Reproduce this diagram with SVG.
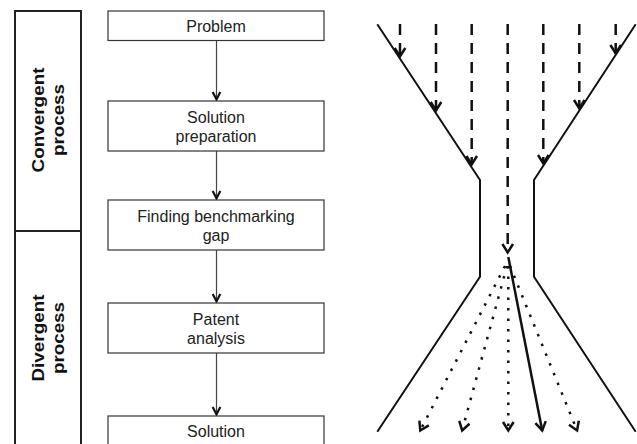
<svg xmlns="http://www.w3.org/2000/svg" width="637" height="444" viewBox="0 0 637 444">
<style>
.box{fill:#fff;stroke:#333;stroke-width:1.2}
.t{font-family:"Liberation Sans",Arial,sans-serif;font-size:16px;fill:#222;text-anchor:middle}
.lbl{font-family:"Liberation Sans",Arial,sans-serif;font-size:16px;font-weight:bold;fill:#111;text-anchor:middle}
.flow{stroke:#444;stroke-width:1.2;fill:none}
.funnel{stroke:#111;stroke-width:2;fill:none}
.dash{stroke:#111;stroke-width:2.5;fill:none;stroke-dasharray:11 8}
.dot{stroke:#111;stroke-width:2.5;fill:none;stroke-dasharray:2.5 8}
.solid{stroke:#111;stroke-width:2.5;fill:none}
</style>
<defs>
<marker id="fh" markerUnits="userSpaceOnUse" markerWidth="14" markerHeight="14" viewBox="-12 -7 14 14" refX="0" refY="0" orient="auto">
<path d="M-8,-3.8 L-0.6,0 L-8,3.8" fill="none" stroke="#111" stroke-width="2.2"/>
</marker>
<marker id="ah" markerUnits="userSpaceOnUse" markerWidth="18" markerHeight="18" viewBox="-12 -9 18 18" refX="0" refY="0" orient="auto">
<path d="M-9,-5.3 L-0.6,0 L-9,5.3" fill="none" stroke="#111" stroke-width="2.5" stroke-dasharray="none"/>
</marker>
</defs>

<g id="label-panel">
<path d="M15,460 V11 H81 V460 M15,231 H81" fill="none" stroke="#222" stroke-width="2"/>
<g transform="translate(43.5,120) rotate(-90)">
<text class="lbl" x="0" y="0" textLength="105" lengthAdjust="spacingAndGlyphs">Convergent</text>
<text class="lbl" x="0" y="20" textLength="72" lengthAdjust="spacingAndGlyphs">process</text>
</g>
<g transform="translate(43.5,338) rotate(-90)">
<text class="lbl" x="0" y="0" textLength="87" lengthAdjust="spacingAndGlyphs">Divergent</text>
<text class="lbl" x="0" y="20" textLength="72" lengthAdjust="spacingAndGlyphs">process</text>
</g>
</g>

<g id="connectors">
<line class="flow" x1="216.5" y1="40.5" x2="216.5" y2="100" marker-end="url(#fh)"/>
<line class="flow" x1="216.5" y1="151" x2="216.5" y2="199" marker-end="url(#fh)"/>
<line class="flow" x1="216.5" y1="250" x2="216.5" y2="302" marker-end="url(#fh)"/>
<line class="flow" x1="216.5" y1="353" x2="216.5" y2="415" marker-end="url(#fh)"/>
</g>

<g id="problem">
<rect class="box" x="108" y="11" width="216" height="29.5"/>
<text class="t" x="216" y="32">Problem</text>
</g>
<g id="solution-preparation">
<rect class="box" x="108" y="101" width="216" height="50"/>
<text class="t" x="216" y="123">Solution</text>
<text class="t" x="216" y="141.5">preparation</text>
</g>
<g id="finding-gap">
<rect class="box" x="108" y="200" width="216" height="50"/>
<text class="t" x="216" y="222">Finding benchmarking</text>
<text class="t" x="216" y="240.5">gap</text>
</g>
<g id="patent-analysis">
<rect class="box" x="108" y="303" width="216" height="50"/>
<text class="t" x="216" y="325">Patent</text>
<text class="t" x="216" y="343.5">analysis</text>
</g>
<g id="solution">
<rect class="box" x="108" y="416" width="216" height="60"/>
<text class="t" x="216" y="436.5">Solution</text>
</g>

<g id="funnel">
<path class="funnel" d="M377.3,24.3 L480,180 V276.7 L377.3,431.7"/>
<path class="funnel" d="M635.7,24.3 L534,180 V276.7 L635.7,431.7"/>
<line class="dash" x1="400" y1="24" x2="400" y2="57" marker-end="url(#ah)"/>
<line class="dash" x1="436" y1="24" x2="436" y2="111" marker-end="url(#ah)"/>
<line class="dash" x1="471.7" y1="24" x2="471.7" y2="165" marker-end="url(#ah)"/>
<line class="dash" x1="507.7" y1="24" x2="507.7" y2="253" marker-end="url(#ah)"/>
<line class="dash" x1="543.3" y1="24" x2="543.3" y2="164" marker-end="url(#ah)"/>
<line class="dash" x1="579.3" y1="24" x2="579.3" y2="109" marker-end="url(#ah)"/>
<line class="dash" x1="615.7" y1="24" x2="615.7" y2="54" marker-end="url(#ah)"/>
<line class="dot" x1="505" y1="266" x2="420" y2="431" marker-end="url(#ah)"/>
<line class="dot" x1="507" y1="266" x2="462" y2="431" marker-end="url(#ah)"/>
<line class="dot" x1="508.3" y1="266" x2="508.3" y2="431" marker-end="url(#ah)"/>
<line class="dot" x1="510" y1="266" x2="577.3" y2="431" marker-end="url(#ah)"/>
<line class="solid" x1="508.3" y1="257" x2="542.3" y2="431" marker-end="url(#ah)"/>
</g>
</svg>
